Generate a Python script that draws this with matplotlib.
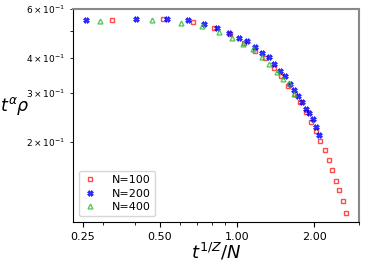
import numpy as np
import matplotlib
matplotlib.use('Agg')
import matplotlib.pyplot as plt
from matplotlib.ticker import FormatStrFormatter, NullFormatter

# values (x = t^(1/Z)/N, y = t^alpha rho)
x100 = [0.326, 0.515, 0.674, 0.812, 0.940, 1.063, 1.177, 1.292, 1.396, 1.487,
        1.589, 1.681, 1.770, 1.856, 1.950, 2.031, 2.118, 2.202, 2.283, 2.351,
        2.431, 2.513, 2.588, 2.667]
y100 = [0.549, 0.551, 0.539, 0.514, 0.487, 0.453, 0.423, 0.400, 0.367, 0.344,
        0.318, 0.298, 0.277, 0.256, 0.235, 0.218, 0.201, 0.186, 0.172, 0.158,
        0.144, 0.134, 0.122, 0.111]

x200 = [0.257, 0.405, 0.531, 0.642, 0.744, 0.839, 0.929, 1.016, 1.099, 1.179,
        1.253, 1.330, 1.401, 1.472, 1.540, 1.608, 1.669, 1.732, 1.790, 1.856,
        1.913, 1.982, 2.043, 2.099]
y200 = [0.549, 0.554, 0.551, 0.546, 0.529, 0.511, 0.491, 0.473, 0.461, 0.438,
        0.418, 0.404, 0.380, 0.359, 0.345, 0.323, 0.307, 0.292, 0.277, 0.262,
        0.254, 0.241, 0.225, 0.212]

x400 = [0.293, 0.464, 0.605, 0.733, 0.849, 0.957, 1.056, 1.159, 1.250, 1.339,
        1.428, 1.512, 1.600, 1.676]
y400 = [0.545, 0.548, 0.533, 0.520, 0.497, 0.471, 0.450, 0.429, 0.404, 0.381,
        0.355, 0.337, 0.324, 0.297]

xticks = [0.25, 0.5, 1.0, 2.0]

fig = plt.figure(figsize=(3.65, 2.62), dpi=100)
ax = fig.add_axes([0.2, 0.153, 0.784, 0.813])

ax.plot(x100, y100, ls='none', marker='s', ms=3.5, mfc='none', mec='red',
        mew=1.0, alpha=0.7, label='N=100')
ax.plot(x200, y200, ls='none', marker='X', ms=3.8, mfc='blue', mec='blue',
        mew=0.5, alpha=0.8, label='N=200')
ax.plot(x400, y400, ls='none', marker='^', ms=3.5, mfc='none', mec='#33bb33',
        mew=1.0, alpha=0.8, label='N=400')

ax.set_xscale('log')
ax.set_yscale('log')
ax.set_xlim(0.229, 3.0)
ax.set_ylim(0.103, 0.6)
ax.set_xticks(xticks)
ax.xaxis.set_major_formatter(FormatStrFormatter('%.2f'))
ax.xaxis.set_minor_formatter(NullFormatter())
ax.tick_params(axis='x', which='major', labelsize=8)
ax.tick_params(axis='y', which='both', labelsize=6.5)

for s in ['top', 'right']:
    ax.spines[s].set_color('#888888')
    ax.spines[s].set_linewidth(1.5)

ax.set_xlabel(r'$t^{1/Z}/N$', fontsize=13, labelpad=0)
ax.set_ylabel(r'$t^{\alpha}\rho$', fontsize=12.5, rotation=0, ha='center', va='center')
ax.yaxis.set_label_coords(-0.205, 0.545)
ax.legend(loc='lower left', fontsize=8, handlelength=1.2, handletextpad=1.4,
          labelspacing=0.3, borderpad=0.4)

plt.savefig('out.png')
